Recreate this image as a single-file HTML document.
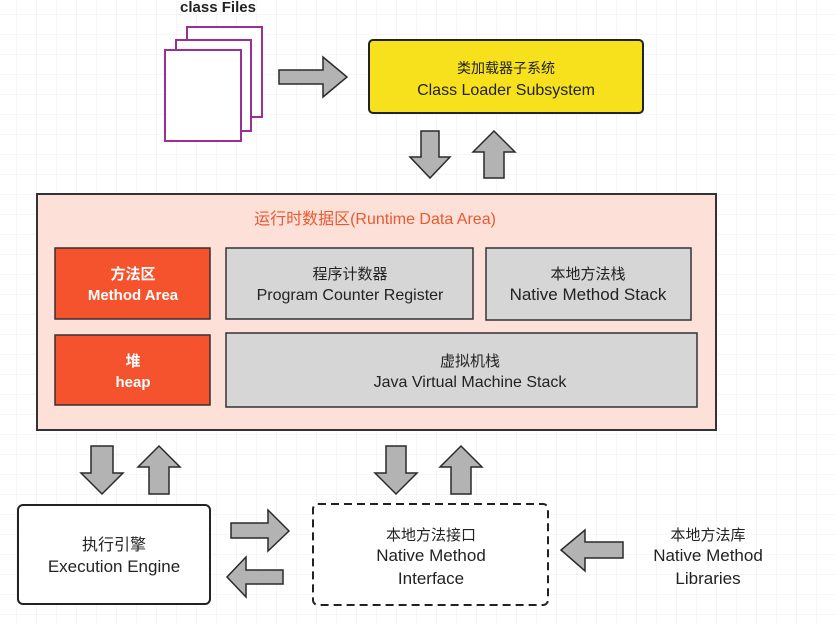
<!DOCTYPE html>
<html><head><meta charset="utf-8"><style>
html,body{margin:0;padding:0;background:#fff;}
svg{display:block;}
text{font-family:"Liberation Sans","Noto Sans CJK SC",sans-serif;text-anchor:middle;}
</style></head><body>
<svg width="836" height="625" viewBox="0 0 836 625" xmlns="http://www.w3.org/2000/svg">
<defs>
<pattern id="g" width="20" height="20" patternUnits="userSpaceOnUse" x="-3" y="-5">
<path d="M20 0V20M0 20H20" stroke="#ececec" stroke-width="1" fill="none"/>
</pattern>
</defs>
<rect width="836" height="625" fill="url(#g)"/>

<g fill="#b3b3b3" stroke="#2a2a2a" stroke-width="1.5" stroke-linejoin="miter">
<!-- files -> loader -->
<path d="M279,70 H323 V57 L347,77 L323,97 V84 H279 Z"/>
<!-- loader down/up -->
<path d="M421,131 H439 V157 H450 L430,178 L410,157 H421 Z"/>
<path d="M484,178 H504 V152 H515 L494,131 L473,152 H484 Z"/>
<!-- runtime to exec -->
<path d="M91,446 H113 V473 H123 L102,494 L81,473 H91 Z"/>
<path d="M149,494 H169 V467 H180 L159,446 L138,467 H149 Z"/>
<!-- runtime to native interface -->
<path d="M386,446 H406 V473 H417 L396,494 L375,473 H386 Z"/>
<path d="M451,494 H471 V467 H482 L461,446 L440,467 H451 Z"/>
<!-- exec <-> interface -->
<path d="M231,523 H268 V510 L289,531 L268,551 V538 H231 Z"/>
<path d="M283,570 H246 V557 L227,577 L246,597 V584 H283 Z"/>
<!-- libs -> interface -->
<path d="M623,542 H585 V530 L561,550 L585,571 V558 H623 Z"/>
</g>

<!-- class files -->
<text x="218" y="12" font-size="15" font-weight="bold" fill="#222">class Files</text>
<g fill="#fff" stroke="#9b2f96" stroke-width="2">
<rect x="187" y="27" width="75" height="90"/>
<rect x="176" y="40" width="75" height="91"/>
<rect x="165" y="50" width="76" height="91"/>
</g>

<!-- class loader -->
<rect x="369" y="40" width="274" height="73" rx="4" fill="#f7e11c" stroke="#222" stroke-width="2"/>
<text x="506" y="73" font-size="14" fill="#222">类加载器子系统</text>
<text x="506" y="95" font-size="16" fill="#222">Class Loader Subsystem</text>

<!-- runtime data area -->
<rect x="37" y="194" width="679" height="236" fill="#fde0d8" stroke="#333" stroke-width="2"/>
<text x="375" y="224" font-size="16" fill="#e85a32">运行时数据区(Runtime Data Area)</text>

<rect x="55" y="248" width="155" height="71" fill="#f4532d" stroke="#333" stroke-width="1.5"/>
<text x="133" y="279" font-size="15" font-weight="bold" fill="#fff">方法区</text>
<text x="133" y="300" font-size="15" font-weight="bold" fill="#fff">Method Area</text>

<rect x="226" y="248" width="247" height="71" fill="#d6d6d6" stroke="#333" stroke-width="1.5"/>
<text x="350" y="279" font-size="15" fill="#222">程序计数器</text>
<text x="350" y="300" font-size="16" fill="#222">Program Counter Register</text>

<rect x="486" y="248" width="205" height="72" fill="#d6d6d6" stroke="#333" stroke-width="1.5"/>
<text x="588" y="279" font-size="15" fill="#222">本地方法栈</text>
<text x="588" y="300" font-size="17" fill="#222">Native Method Stack</text>

<rect x="55" y="335" width="155" height="70" fill="#f4532d" stroke="#333" stroke-width="1.5"/>
<text x="133" y="366" font-size="15" font-weight="bold" fill="#fff">堆</text>
<text x="133" y="387" font-size="15" font-weight="bold" fill="#fff">heap</text>

<rect x="226" y="333" width="471" height="74" fill="#d6d6d6" stroke="#333" stroke-width="1.5"/>
<text x="470" y="366" font-size="15" fill="#222">虚拟机栈</text>
<text x="470" y="387" font-size="16" fill="#222">Java Virtual Machine Stack</text>

<!-- execution engine -->
<rect x="18" y="505" width="192" height="99" rx="5" fill="#fff" stroke="#222" stroke-width="2"/>
<text x="114" y="550" font-size="16" fill="#222">执行引擎</text>
<text x="114" y="572" font-size="17" fill="#222">Execution Engine</text>

<!-- native method interface -->
<rect x="313" y="504" width="235" height="101" rx="5" fill="#fff" stroke="#222" stroke-width="2" stroke-dasharray="8,5"/>
<text x="431" y="540" font-size="15" fill="#222">本地方法接口</text>
<text x="431" y="561" font-size="17" fill="#222">Native Method</text>
<text x="431" y="584" font-size="17" fill="#222">Interface</text>

<!-- libraries -->
<text x="708" y="540" font-size="15" fill="#222">本地方法库</text>
<text x="708" y="561" font-size="17" fill="#222">Native Method</text>
<text x="708" y="584" font-size="17" fill="#222">Libraries</text>
</svg>
</body></html>
